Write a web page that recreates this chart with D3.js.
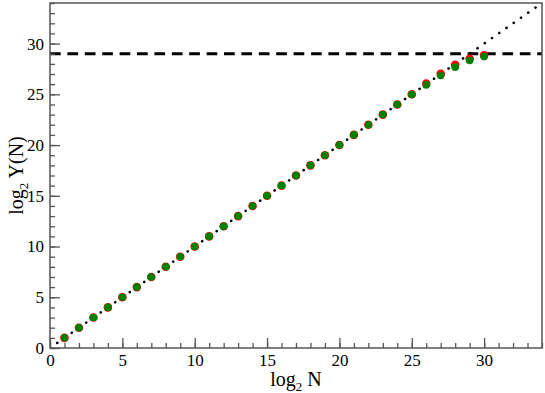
<!DOCTYPE html>
<html>
<head>
<meta charset="utf-8">
<script src="https://cdn.jsdelivr.net/npm/d3@7"></script>
<style>
body { margin: 0; background: #fff; }
text { font-family: "Liberation Serif", "DejaVu Serif", serif; }
</style>
</head>
<body>
<div id="root"></div>
<script>
// DATA
const logN = [1,2,3,4,5,6,7,8,9,10,11,12,13,14,15,16,17,18,19,20,21,22,23,24,25,26,27,28,29,30];
const redY = [1,2,3,4,5,6,7,8,9,10,11,12,13,14,15,16,17,18,19,20,21,22,23,24,25,26.05,27.02,27.9,28.5,28.84];
const greenY = [1,2,3,4,5,6,7,8,9,10,11,12,13,14,15,16,17,18,19,20,21,22,23,24,24.98,25.93,26.85,27.68,28.33,28.72];
const limitY = 29;
const xTicks = [0,5,10,15,20,25,30];
const yTicks = [0,5,10,15,20,25,30];

// DIMENSIONS
const width = 545, height = 393;
const margin = {top: 3, right: 3, bottom: 45, left: 50};
const w = width - margin.left - margin.right;
const h = height - margin.top - margin.bottom;

const svg = d3.select('#root').append('svg')
  .attr('width', width).attr('height', height);
const g = svg.append('g').attr('transform', `translate(${margin.left},${margin.top})`);

// SCALES
const x = d3.scaleLinear().domain([0, 34]).range([0, w]);
const y = d3.scaleLinear().domain([0, 34]).range([h, 0]);

const axisColor = '#555';

// CLIP
g.append('clipPath').attr('id', 'clip')
  .append('rect').attr('width', w).attr('height', h);

// REFERENCE LINES
g.append('line')
  .attr('x1', x(0)).attr('x2', x(34))
  .attr('y1', y(limitY)).attr('y2', y(limitY))
  .attr('stroke', '#000').attr('stroke-width', 3)
  .attr('stroke-dasharray', '10.7,6.7');

g.append('line')
  .attr('clip-path', 'url(#clip)')
  .attr('x1', x(0)).attr('y1', y(0))
  .attr('x2', x(34)).attr('y2', y(34))
  .attr('stroke', '#000').attr('stroke-width', 2.6)
  .attr('stroke-linecap', 'round')
  .attr('stroke-dasharray', '0.1,8.75');

// POINTS
g.append('g').selectAll('circle').data(logN).join('circle')
  .attr('cx', d => x(d)).attr('cy', (d, i) => y(redY[i]))
  .attr('r', 4.3).attr('fill', '#ff0000');

g.append('g').selectAll('circle').data(logN).join('circle')
  .attr('cx', d => x(d)).attr('cy', (d, i) => y(greenY[i]))
  .attr('r', 3.8).attr('fill', '#008000');

// FRAME
g.append('rect').attr('width', w).attr('height', h)
  .attr('fill', 'none').attr('stroke', axisColor).attr('stroke-width', 1.5);

// AXES (ticks inward)
const axes = g.append('g');
axes.append('g').attr('transform', `translate(0,${h})`)
  .call(d3.axisBottom(x).tickValues(d3.range(0, 35, 1)).tickSize(-5).tickFormat(''));
axes.append('g').attr('transform', `translate(0,${h})`)
  .call(d3.axisBottom(x).tickValues(xTicks).tickSize(-10).tickPadding(6));
axes.append('g')
  .call(d3.axisLeft(y).tickValues(d3.range(0, 35, 1)).tickSize(-5).tickFormat(''));
axes.append('g')
  .call(d3.axisLeft(y).tickValues(yTicks).tickSize(-10).tickPadding(6));

axes.selectAll('.domain').remove();
axes.selectAll('.tick line').attr('stroke', axisColor).attr('stroke-width', 1.3);
axes.selectAll('.tick text').attr('fill', '#000')
  .style('font-family', '"Liberation Serif", serif').style('font-size', '17px');

// AXIS TITLES
const xt = svg.append('text')
  .attr('x', margin.left + x(17)).attr('y', 386)
  .attr('text-anchor', 'middle').style('font-size', '20px');
xt.append('tspan').text('log');
xt.append('tspan').attr('dy', 5).style('font-size', '13px').text('2');
xt.append('tspan').attr('dy', -5).text(' N');

const yt = svg.append('text')
  .attr('transform', `translate(23,${margin.top + y(17)}) rotate(-90)`)
  .attr('text-anchor', 'middle').style('font-size', '20px');
yt.append('tspan').text('log');
yt.append('tspan').attr('dy', 5).style('font-size', '13px').text('2');
yt.append('tspan').attr('dy', -5).text(' Y(N)');
</script>
</body>
</html>
